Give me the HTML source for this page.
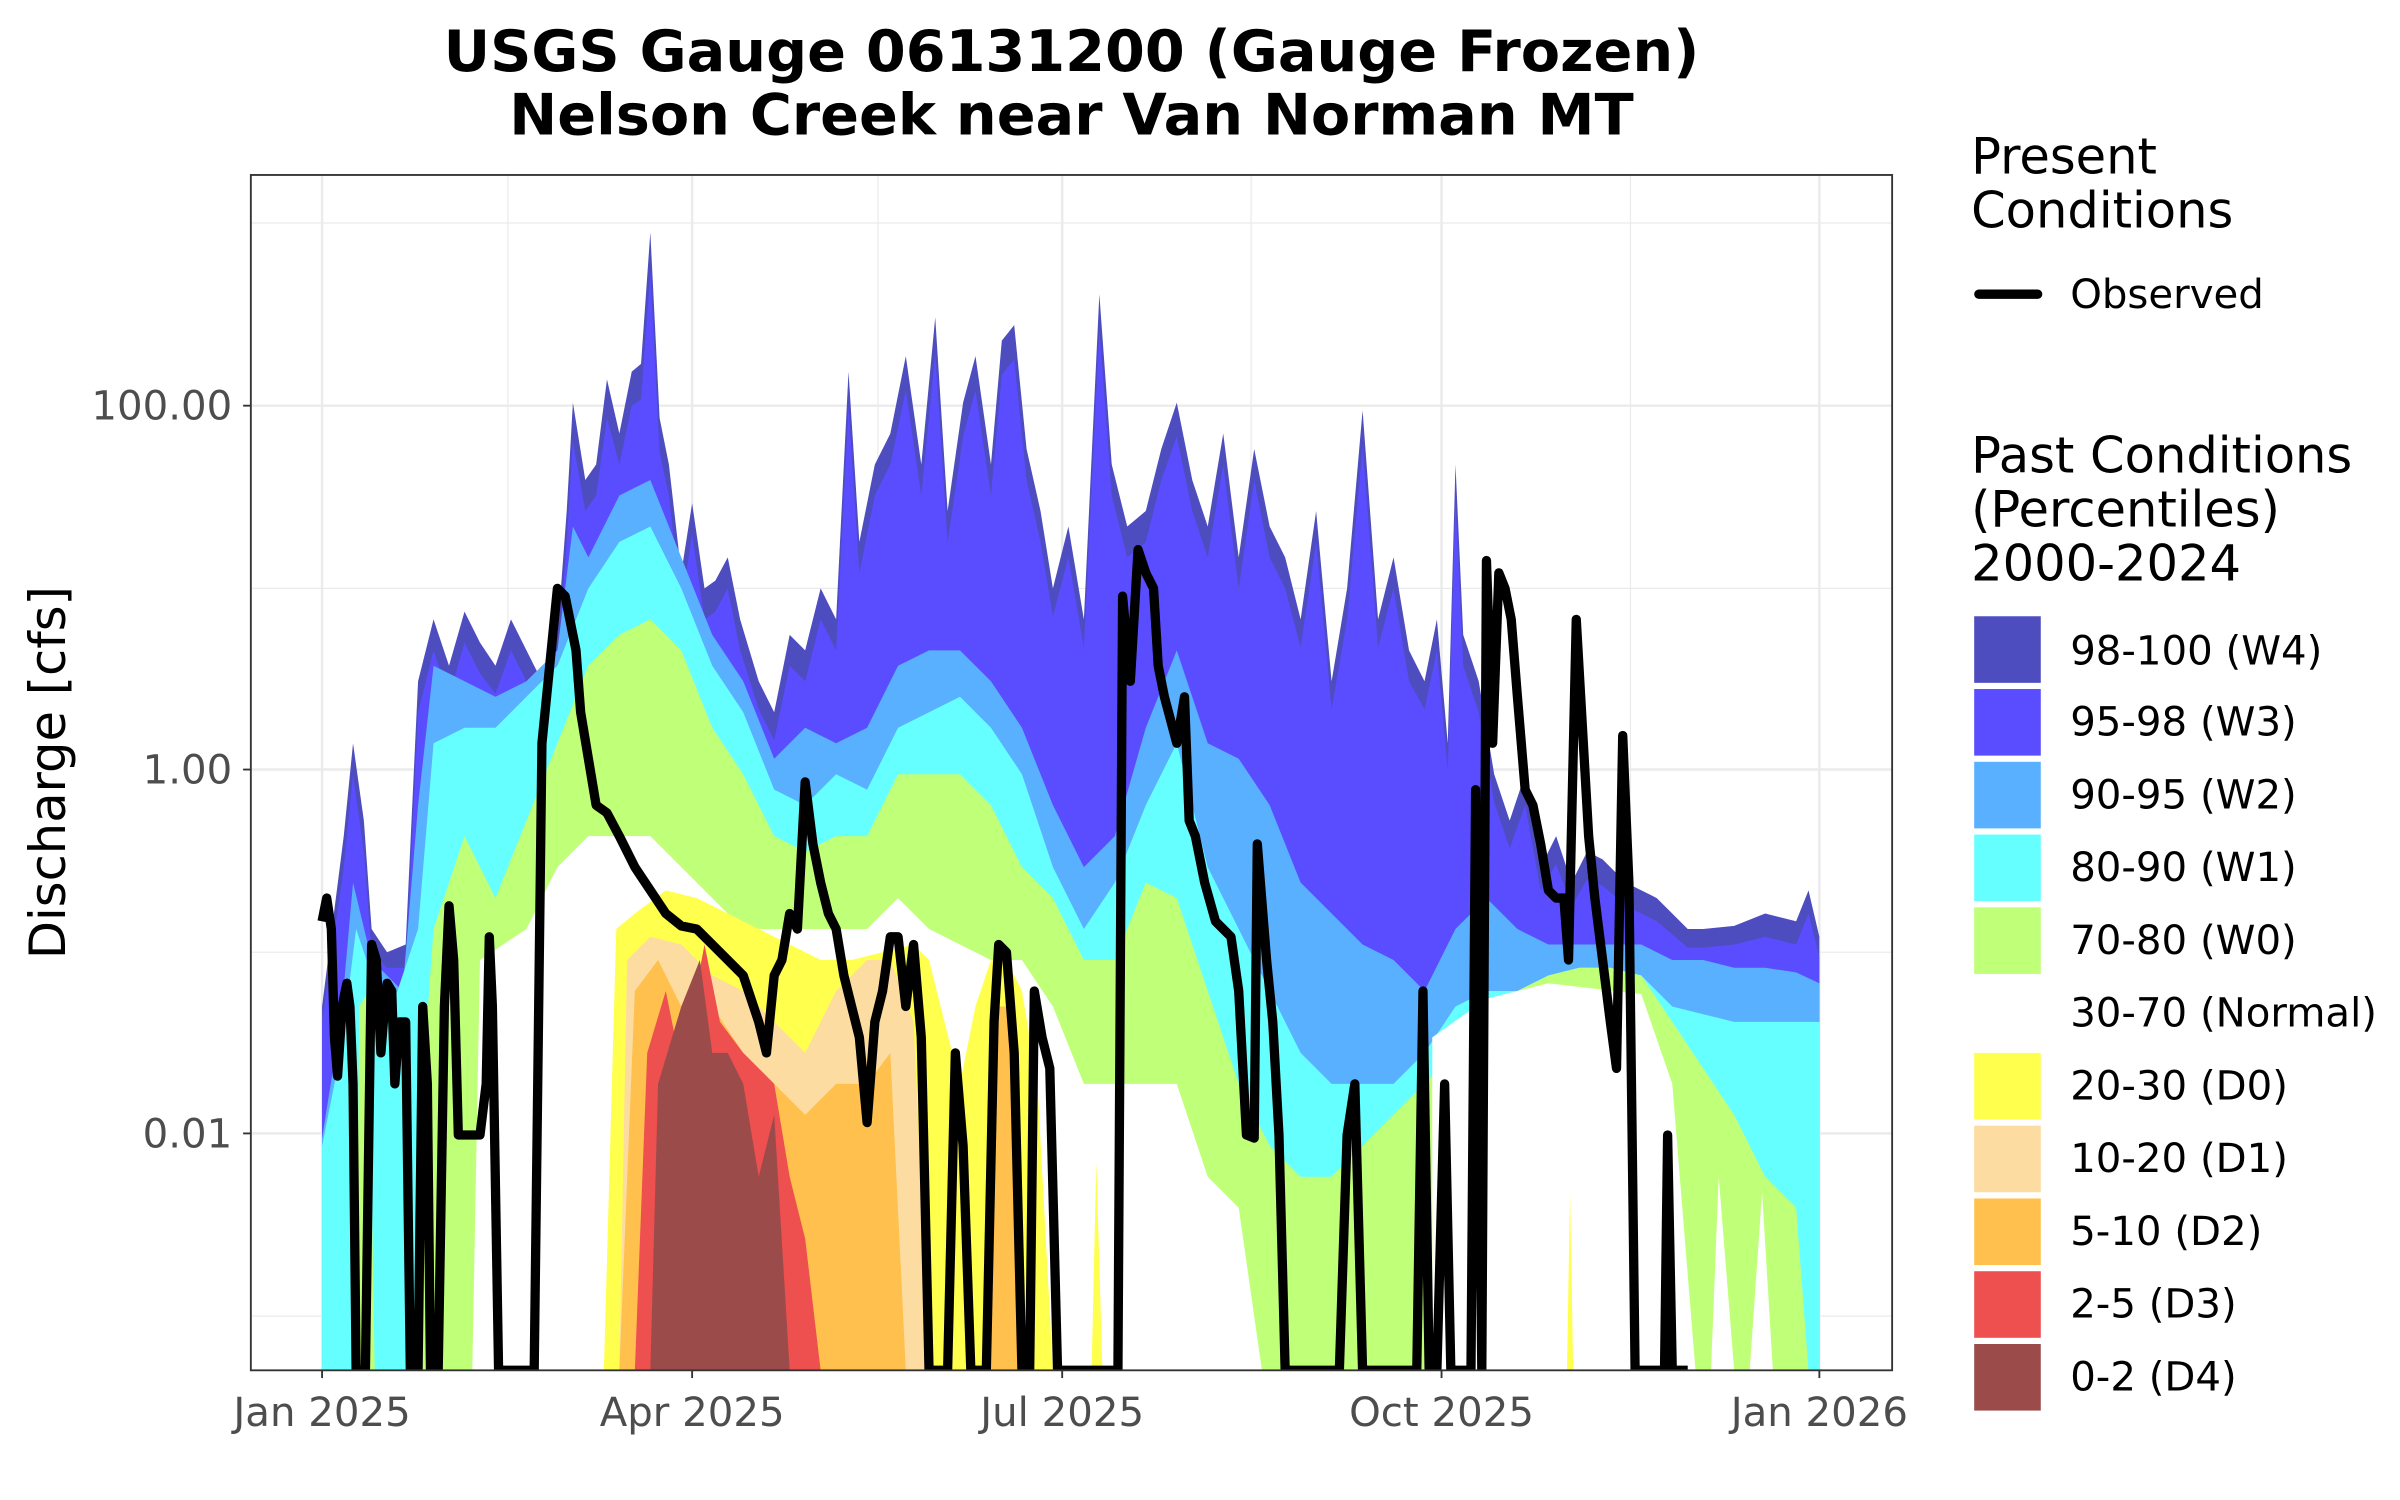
<!DOCTYPE html>
<html><head><meta charset="utf-8"><style>html,body{margin:0;padding:0;background:#fff}svg{display:block}</style></head>
<body>
<svg width="2400" height="1500" viewBox="0 0 1550 968.75" preserveAspectRatio="none" xmlns="http://www.w3.org/2000/svg" font-family="'DejaVu Sans','Liberation Sans',sans-serif">
<defs><clipPath id="c"><rect x="162" y="113" width="1060" height="772"/></clipPath></defs>
<rect width="1550" height="968.75" fill="#fff"/>
<g stroke="#ebebeb" fill="none">
<g stroke-width="0.8"><line x1="162" x2="1222" y1="144" y2="144"/><line x1="162" x2="1222" y1="380" y2="380"/><line x1="162" x2="1222" y1="615" y2="615"/><line x1="162" x2="1222" y1="850" y2="850"/>
<line y1="113" y2="885" x1="328" x2="328"/><line y1="113" y2="885" x1="567" x2="567"/><line y1="113" y2="885" x1="808" x2="808"/><line y1="113" y2="885" x1="1053" x2="1053"/></g>
<g stroke-width="1.6"><line x1="162" x2="1222" y1="262" y2="262"/><line x1="162" x2="1222" y1="497" y2="497"/><line x1="162" x2="1222" y1="732" y2="732"/>
<line y1="113" y2="885" x1="208" x2="208"/><line y1="113" y2="885" x1="447" x2="447"/><line y1="113" y2="885" x1="686" x2="686"/><line y1="113" y2="885" x1="931" x2="931"/><line y1="113" y2="885" x1="1175" x2="1175"/></g>
</g>
<g clip-path="url(#c)">
<path fill="#4d4dbf" d="M208,885 L208,650 222,540 228,480 235,530 240,600 250,615 262,610 270,440 280,400 290,430 300,395 310,415 320,430 330,400 340,420 350,440 360,410 366,330 370,260 378,310 385,300 392,245 400,280 408,240 414,235 420,150 426,270 432,300 440,370 447,325 455,380 462,375 470,360 478,400 490,440 500,460 510,410 520,420 530,380 540,400 548,240 555,350 565,300 575,280 585,230 595,300 604,205 612,330 622,260 630,230 640,300 647,220 655,210 663,290 672,330 680,380 690,340 700,400 710,190 718,300 728,340 740,330 750,290 760,260 770,310 780,340 790,280 800,360 810,290 820,340 830,360 840,400 850,330 860,440 870,380 880,265 890,400 900,360 910,420 920,440 928,400 935,480 940,300 945,410 955,440 965,500 975,530 985,500 995,560 1005,540 1015,570 1025,550 1035,555 1050,570 1070,580 1090,600 1100,600 1120,598 1140,590 1160,595 1168,575 1175,605 L1175,885 Z"/>
<path fill="#5a4cff" d="M208,885 L208,660 222,560 228,500 235,550 240,615 250,625 262,625 270,460 280,420 290,450 300,415 310,435 320,448 330,420 340,440 350,458 360,430 366,350 370,285 378,330 385,320 392,270 400,300 408,262 414,258 420,175 426,292 432,320 440,390 447,345 455,400 462,395 470,380 478,420 490,458 500,478 510,430 520,440 530,400 540,420 548,262 555,370 565,320 575,300 585,252 595,320 604,228 612,350 622,282 630,252 640,320 647,242 655,232 663,310 672,350 680,398 690,360 700,418 710,212 718,320 728,360 740,350 750,310 760,282 770,330 780,360 790,300 800,380 810,310 820,360 830,380 840,418 850,350 860,458 870,400 880,288 890,418 900,380 910,440 920,458 928,420 935,498 940,322 945,430 955,460 965,518 975,548 985,520 995,575 1005,558 1015,585 1025,568 1035,572 1050,585 1070,595 1090,612 1100,612 1120,610 1140,605 1160,610 1168,590 1175,618 L1175,885 Z"/>
<path fill="#59b0ff" d="M208,885 L208,735 220,660 228,570 240,620 260,640 270,520 280,430 300,440 320,450 340,440 360,420 370,340 380,360 400,320 420,310 440,360 460,410 480,440 500,490 520,470 540,480 560,470 580,430 600,420 620,420 640,440 660,470 680,520 700,560 720,540 740,470 760,420 780,480 800,490 820,520 840,570 860,590 880,610 900,620 920,640 940,600 960,580 980,600 1000,610 1020,610 1040,610 1060,610 1080,620 1100,620 1120,625 1140,625 1160,628 1175,635 L1175,885 Z"/>
<path fill="#66ffff" d="M208,885 L208,740 220,680 230,600 250,660 270,600 280,480 300,470 320,470 340,450 360,430 380,380 400,350 420,340 440,380 460,430 480,460 500,510 520,520 540,500 560,510 580,470 600,460 620,450 640,470 660,500 680,560 700,600 720,570 740,520 760,480 780,560 800,600 820,640 840,680 860,700 880,700 900,700 920,680 940,650 960,640 980,640 1000,630 1020,625 1040,625 1060,630 1080,650 1100,655 1120,660 1140,660 1160,660 1175,660 L1175,885 Z"/>
<path fill="#c0ff78" d="M230,885 L232,650 238,640 242,885 L270,885 270,740 280,600 300,540 320,580 340,530 360,480 380,430 400,410 420,400 440,420 460,470 480,500 500,540 520,550 540,540 560,540 580,500 600,500 620,500 640,520 660,560 680,580 700,620 720,620 740,570 760,580 780,640 800,700 820,740 840,760 860,760 880,740 900,720 920,700 940,680 960,660 980,640 1000,630 1020,625 1040,625 1060,630 1080,660 1100,690 1120,720 1140,760 1160,780 1168,885 Z"/>
<path fill="#ffffff" d="M305,885 L310,620 340,600 360,560 380,540 400,540 420,540 440,560 460,580 480,600 500,600 520,600 540,600 560,600 580,580 600,600 620,610 640,620 660,620 680,650 700,700 720,700 760,700 780,760 800,780 815,885 Z M925,885 L925,670 960,645 1000,635 1060,642 1080,700 1095,885 Z M1105,885 L1110,760 1120,885 Z M1130,885 L1138,770 1145,885 Z"/>
<path fill="#ffff4d" d="M390,885 L398,600 410,590 430,575 450,580 470,590 490,600 510,610 530,620 550,620 570,615 590,610 600,620 610,660 620,700 630,650 640,620 650,620 660,640 670,700 680,885 Z M705,885 L708,750 712,885 Z M1012,885 L1014,770 1016,885 Z"/>
<path fill="#fcdca0" d="M400,885 L405,620 420,605 440,610 460,630 480,640 500,660 520,680 540,640 560,620 575,620 590,660 600,885 Z"/>
<path fill="#ffc04d" d="M400,885 L410,640 425,620 440,650 460,650 480,680 500,700 520,720 540,700 560,700 575,680 585,885 Z M638,885 L645,650 655,650 662,885 Z"/>
<path fill="#ee4f4f" d="M410,885 L418,680 430,640 440,690 455,610 465,660 480,680 500,700 510,760 520,800 530,885 Z"/>
<path fill="#9c4b4b" d="M420,885 L425,700 440,650 452,620 460,680 470,680 480,700 490,760 500,720 510,885 Z"/>
<polyline fill="none" stroke="#000" stroke-width="6" stroke-linejoin="round" points="208,595 211,580 214,600 216,670 218,695 221,650 224,635 226,650 228,700 230,885 236,885 240,610 243,620 246,680 248,655 250,635 253,640 255,700 258,660 262,660 265,885 270,885 273,650 276,700 278,885 283,885 287,650 290,585 293,620 296,733 310,733 314,700 316,605 318,650 322,885 345,885 350,480 355,430 360,380 365,385 372,420 375,460 380,490 385,520 392,525 400,540 410,560 420,575 430,590 440,598 450,600 460,610 470,620 480,630 490,660 495,680 500,630 505,620 510,590 515,600 520,505 525,545 530,570 535,590 540,600 545,630 550,650 555,670 560,725 565,660 570,640 575,605 580,605 585,650 590,610 595,670 600,885 612,885 617,680 622,740 627,885 637,885 642,660 645,610 650,615 655,680 660,885 665,885 668,640 673,670 678,690 683,885 722,885 725,385 730,440 735,355 740,370 745,380 748,430 752,450 760,480 765,450 768,530 772,540 778,570 785,595 790,600 795,605 800,640 805,733 810,735 812,545 818,620 822,660 826,733 830,885 865,885 870,733 875,700 880,885 915,885 919,640 923,885 928,885 933,700 937,885 950,885 953,510 957,885 960,362 964,480 968,370 972,380 976,400 980,450 985,510 990,520 995,545 1000,575 1005,580 1010,580 1013,620 1018,400 1022,470 1026,540 1030,580 1035,620 1040,660 1044,690 1048,475 1052,570 1056,885 1075,885 1077,733 1080,885 1090,885"/>
</g>
<rect x="162" y="113" width="1060" height="772" fill="none" stroke="#333" stroke-width="1.2"/>
<g stroke="#333" stroke-width="1.2">
<line x1="157" x2="162" y1="262" y2="262"/><line x1="157" x2="162" y1="497" y2="497"/><line x1="157" x2="162" y1="732" y2="732"/>
<line y1="885" y2="890" x1="208" x2="208"/><line y1="885" y2="890" x1="447" x2="447"/><line y1="885" y2="890" x1="686" x2="686"/><line y1="885" y2="890" x1="931" x2="931"/><line y1="885" y2="890" x1="1175" x2="1175"/>
</g>
<g fill="#4d4d4d" font-size="26">
<g text-anchor="end"><text x="150" y="271">100.00</text><text x="150" y="506">1.00</text><text x="150" y="741">0.01</text></g>
<g text-anchor="middle"><text x="208" y="921">Jan 2025</text><text x="447" y="921">Apr 2025</text><text x="686" y="921">Jul 2025</text><text x="931" y="921">Oct 2025</text><text x="1175" y="921">Jan 2026</text></g>
</g>
<text transform="translate(42,499) rotate(-90)" text-anchor="middle" font-size="32">Discharge [cfs]</text>
<g font-weight="bold" font-size="37" text-anchor="middle"><text x="692" y="46">USGS Gauge 06131200 (Gauge Frozen)</text><text x="692" y="87">Nelson Creek near Van Norman MT</text></g>
<g font-size="32"><text x="1273" y="112">Present</text><text x="1273" y="147">Conditions</text>
<text x="1273" y="305">Past Conditions</text><text x="1273" y="340">(Percentiles)</text><text x="1273" y="375">2000-2024</text></g>
<line x1="1278" x2="1316" y1="190" y2="190" stroke="#000" stroke-width="6" stroke-linecap="round"/>
<g font-size="26"><text x="1337" y="199">Observed</text>
<rect x="1275" y="398" width="43" height="43" fill="#4d4dbf"/><text x="1337" y="429">98-100 (W4)</text>
<rect x="1275" y="445" width="43" height="43" fill="#5a4cff"/><text x="1337" y="475">95-98 (W3)</text>
<rect x="1275" y="492" width="43" height="43" fill="#59b0ff"/><text x="1337" y="522">90-95 (W2)</text>
<rect x="1275" y="539" width="43" height="43" fill="#66ffff"/><text x="1337" y="569">80-90 (W1)</text>
<rect x="1275" y="586" width="43" height="43" fill="#c0ff78"/><text x="1337" y="616">70-80 (W0)</text>
<text x="1337" y="663">30-70 (Normal)</text>
<rect x="1275" y="680" width="43" height="43" fill="#ffff4d"/><text x="1337" y="710">20-30 (D0)</text>
<rect x="1275" y="727" width="43" height="43" fill="#fcdca0"/><text x="1337" y="757">10-20 (D1)</text>
<rect x="1275" y="774" width="43" height="43" fill="#ffc04d"/><text x="1337" y="804">5-10 (D2)</text>
<rect x="1275" y="821" width="43" height="43" fill="#ee4f4f"/><text x="1337" y="851">2-5 (D3)</text>
<rect x="1275" y="868" width="43" height="43" fill="#9c4b4b"/><text x="1337" y="898">0-2 (D4)</text>
</g>
</svg>
</body></html>
